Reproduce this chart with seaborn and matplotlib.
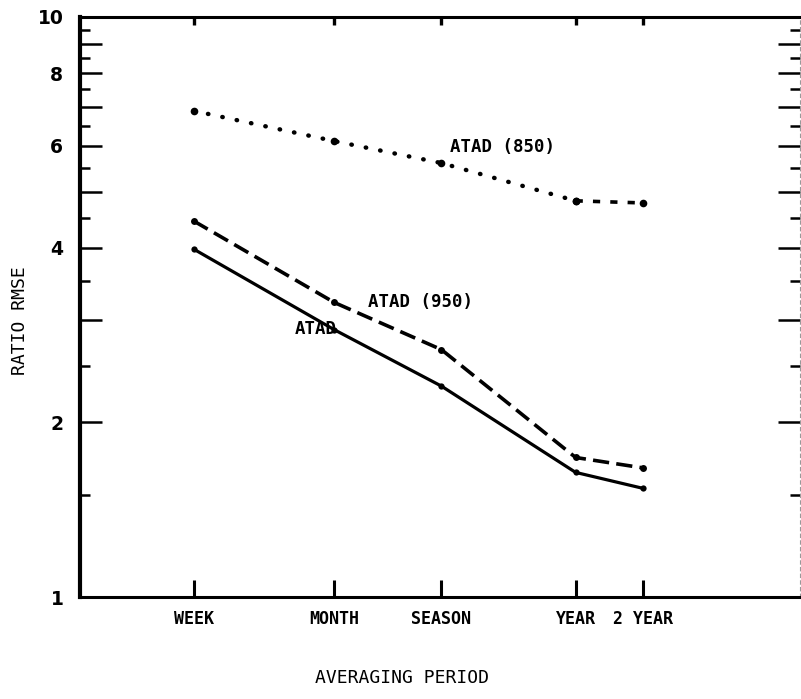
"""Ratio RMSE against averaging period for the three ATAD variants."""

import numpy as np
import pandas as pd
import matplotlib
matplotlib.use("Agg")
import matplotlib.pyplot as plt
import matplotlib.ticker as mticker
import seaborn as sns


# ── Data ──────────────────────────────────────────────────────────────────────
period_labels = ["WEEK", "MONTH", "SEASON", "YEAR", "2 YEAR"]
period_days   = [7, 30, 91, 365, 730]

ratio_atad     = [3.98, 2.89, 2.31, 1.64, 1.54]
ratio_atad_950 = [4.45, 3.22, 2.67, 1.74, 1.67]
ratio_atad_850 = [6.89, 6.11, 5.60, 4.82, 4.78]

y_tick_labels = {1: "1", 2: "2", 4: "4", 6: "6", 8: "8", 10: "10"}

df = pd.DataFrame({"days": period_days,
                   "atad": ratio_atad,
                   "atad950": ratio_atad_950,
                   "atad850": ratio_atad_850})


# ── Style ─────────────────────────────────────────────────────────────────────
sns.set_theme(style="white")
plt.rcParams["font.family"] = ["DejaVu Sans Mono", "DejaVu Sans"]

fig = plt.figure(figsize=(8.01, 6.99), dpi=100)
ax = fig.add_axes([0.0999, 0.1459, 0.8989, 0.8298])

ink = "black"
dot_kw = dict(marker="o", markeredgewidth=0, color=ink)

# solid ATAD
sns.lineplot(data=df, x="days", y="atad", ax=ax, lw=2.3, markersize=4.5,
             **dot_kw)
# dashed ATAD (950)
sns.lineplot(data=df, x="days", y="atad950", ax=ax, lw=2.6, markersize=5,
             linestyle=(0, (4.5, 2.0)), **dot_kw)
# dotted ATAD (850) up to YEAR, short dashes after
sns.lineplot(data=df.iloc[:4], x="days", y="atad850", ax=ax, lw=3.2,
             linestyle=(0, (0.1, 3.2)), dash_capstyle="round",
             markersize=5.5, **dot_kw)
sns.lineplot(data=df.iloc[3:], x="days", y="atad850", ax=ax, lw=2.6,
             linestyle=(0, (2.0, 2.8)), markersize=5.5, **dot_kw)


# ── Axes ──────────────────────────────────────────────────────────────────────
ax.set_xscale("log")
ax.set_yscale("log")
ax.set_xlim(2.16, 3725)
ax.set_ylim(1, 10)

ax.set_xticks(period_days)
ax.set_xticklabels(period_labels, fontsize=12, fontweight="bold")
ax.xaxis.set_minor_locator(mticker.NullLocator())
ax.tick_params(axis="x", which="major", direction="in", length=12,
               width=2.2, pad=9, bottom=True, top=False, color=ink,
               labelcolor=ink)

major_y = np.arange(1, 11)
minor_y = np.arange(1.5, 10, 1.0)
ax.yaxis.set_major_locator(mticker.FixedLocator(major_y))
ax.yaxis.set_minor_locator(mticker.FixedLocator(minor_y))
ax.yaxis.set_major_formatter(mticker.FuncFormatter(
    lambda v, _: y_tick_labels.get(int(round(v)), "")))
ax.yaxis.set_minor_formatter(mticker.NullFormatter())
ax.tick_params(axis="y", which="major", direction="in", length=16,
               width=1.8, pad=12, left=True, right=True,
               labelsize=13.5, color=ink, labelcolor=ink)
ax.tick_params(axis="y", which="minor", direction="in", length=7,
               width=1.8, left=True, right=True, color=ink)
for lbl in ax.get_yticklabels():
    lbl.set_fontweight("bold")
    lbl.set_family("DejaVu Sans")

top = ax.secondary_xaxis("top")
top.set_xticks(period_days)
top.set_xticklabels([])
top.xaxis.set_minor_locator(mticker.NullLocator())
top.tick_params(direction="in", length=6, width=2.4, color=ink)
top.spines["top"].set_visible(False)

ax.spines["left"].set_linewidth(3)
ax.spines["bottom"].set_linewidth(2.2)
ax.spines["top"].set_linewidth(2.2)
ax.spines["right"].set_linewidth(0.8)
ax.spines["right"].set_linestyle((0, (3, 3)))
ax.spines["right"].set_color("#999999")
for side in ("left", "bottom", "top"):
    ax.spines[side].set_color(ink)

ax.set_xlabel("")
ax.set_ylabel("")

# ── Labels ────────────────────────────────────────────────────────────────────
lbl_kw = dict(fontsize=12.5, fontweight="bold", color=ink,
              transform=ax.transAxes, ha="left", va="center")
ax.text(0.514, 0.776, "ATAD (850)", **lbl_kw)
ax.text(0.400, 0.509, "ATAD (950)", **lbl_kw)
ax.text(0.298, 0.462, "ATAD", **lbl_kw)

fig.text(0.025, 0.542, "RATIO RMSE", rotation=90, ha="center", va="center",
         fontsize=13, color=ink)
fig.text(0.502, 0.030, "AVERAGING PERIOD", ha="center", va="center",
         fontsize=13, color=ink)

fig.savefig("out.png", dpi=100)
plt.close(fig)
